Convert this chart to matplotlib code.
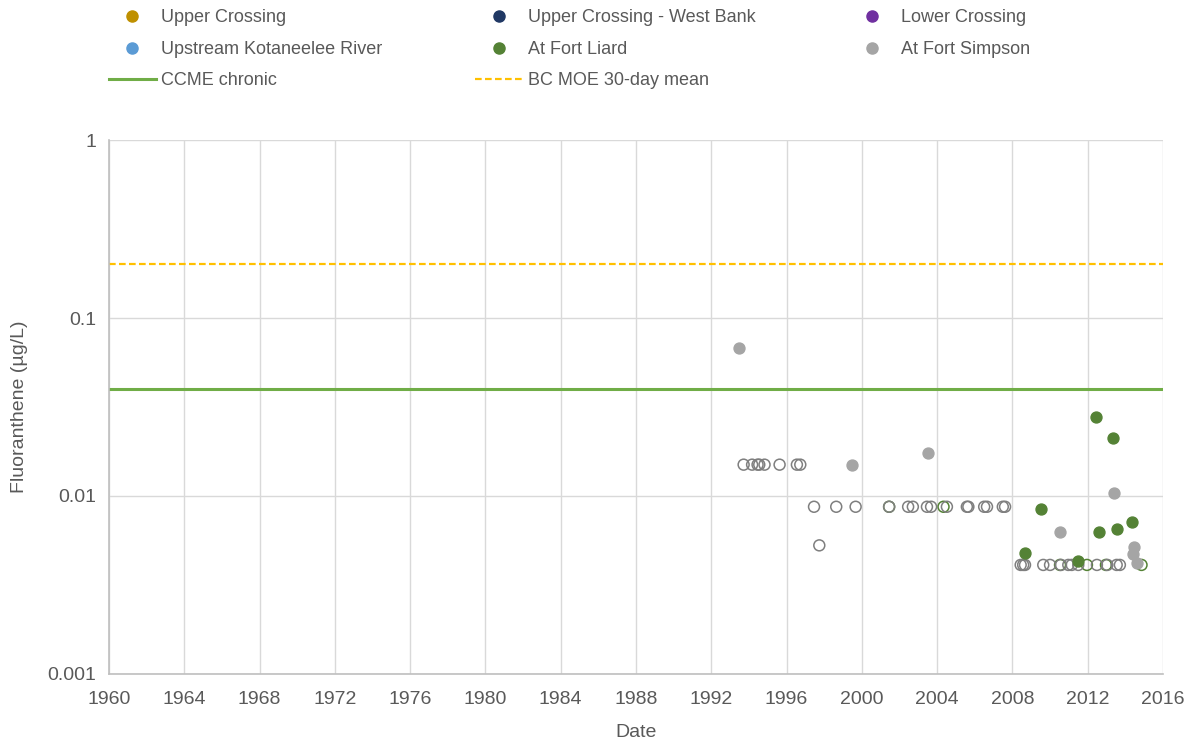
import matplotlib.pyplot as plt
from matplotlib.lines import Line2D

plt.rcParams['font.family'] = ['Liberation Sans', 'DejaVu Sans']

# At Fort Simpson, detected values (decimal year, ug/L)
simpson_year = [1993.49, 1999.49, 2003.52, 2010.53, 2013.38, 2014.45, 2014.39, 2014.60]
simpson_val = [0.0678, 0.0149, 0.0174, 0.0063, 0.0104, 0.00515, 0.00472, 0.00419]

# At Fort Simpson, below detection limit (hollow)
simpson_nd_year = [1993.72, 1994.17, 1994.46, 1994.55, 1994.83, 1995.63, 1996.55, 1996.73,
                   1997.46, 1997.74, 1998.64, 1999.67, 2001.45, 2002.46, 2002.71, 2003.46,
                   2003.68, 2004.52, 2005.58, 2005.66, 2006.50, 2006.65, 2007.49, 2007.61,
                   2008.44, 2008.57, 2008.67, 2009.64, 2010.00, 2010.58, 2010.97, 2011.15,
                   2011.50, 2012.49, 2013.04, 2013.54, 2013.71]
simpson_nd_val = [0.015, 0.015, 0.015, 0.015, 0.015, 0.015, 0.015, 0.015,
                  0.0087, 0.00528, 0.0087, 0.0087, 0.0087, 0.0087, 0.0087, 0.0087,
                  0.0087, 0.0087, 0.0087, 0.0087, 0.0087, 0.0087, 0.0087, 0.0087,
                  0.0041, 0.0041, 0.0041, 0.0041, 0.0041, 0.0041, 0.0041, 0.0041,
                  0.0041, 0.0041, 0.0041, 0.0041, 0.0041]

# At Fort Liard, detected values
liard_year = [2012.44, 2013.37, 2009.50, 2008.69, 2011.50, 2012.58, 2013.54, 2014.35]
liard_val = [0.0279, 0.0213, 0.00845, 0.0048, 0.0043, 0.00625, 0.0065, 0.00717]

# At Fort Liard, below detection limit
liard_nd_year = [2001.45, 2004.34, 2010.53, 2011.96, 2012.97, 2014.86]
liard_nd_val = [0.0087, 0.0087, 0.0041, 0.0041, 0.0041, 0.0041]

ccme_chronic = 0.04
bc_moe_30day = 0.2

c_simpson = '#A5A5A5'
c_liard = '#548235'
txt = '#595959'
grid_c = '#D9D9D9'

fig = plt.figure(figsize=(11.95, 7.4), dpi=100)
ax = fig.add_axes([0.0912, 0.0892, 0.8820, 0.7216])

ax.axhline(ccme_chronic, color='#70AD47', lw=2.2, zorder=2)
ax.axhline(bc_moe_30day, color='#FFC000', lw=1.6, ls=(0, (3, 1.5)), zorder=2)

ax.scatter(liard_nd_year, liard_nd_val, s=62, facecolors='none', edgecolors=c_liard,
           linewidths=1.1, zorder=3)
ax.scatter(liard_year, liard_val, s=62, color=c_liard, zorder=4)
ax.scatter(simpson_nd_year, simpson_nd_val, s=62, facecolors='none', edgecolors='#7F7F7F',
           linewidths=1.1, zorder=3)
ax.scatter(simpson_year, simpson_val, s=62, color=c_simpson, zorder=4)

ax.set_yscale('log')
ax.set_ylim(0.001, 1)
ax.set_yticks([0.001, 0.01, 0.1, 1])
ax.set_yticklabels(['0.001', '0.01', '0.1', '1'])
ax.minorticks_off()
ax.set_xlim(1960, 2016)
ax.set_xticks(range(1960, 2017, 4))

ax.grid(True, color=grid_c, lw=1)
ax.set_axisbelow(True)
for s in ['top', 'right']:
    ax.spines[s].set_visible(False)
for s in ['left', 'bottom']:
    ax.spines[s].set_color('#BFBFBF')
    ax.spines[s].set_linewidth(1.2)
ax.tick_params(axis='x', length=0, labelsize=14, colors=txt, pad=12)
ax.tick_params(axis='y', length=0, labelsize=14, colors=txt, pad=9)

ax.set_xlabel('Date', fontsize=14, color=txt, labelpad=12)
ax.set_ylabel('Fluoranthene (µg/L)', fontsize=14, color=txt, labelpad=14)

# legend, Excel-style three columns
def dot(c):
    return Line2D([], [], ls='none', marker='o', ms=8, color=c)

handles = [dot('#BF9000'), dot('#5B9BD5'),
           Line2D([], [], color='#70AD47', lw=2.2),
           dot('#203864'), dot(c_liard),
           Line2D([], [], color='#FFC000', lw=1.6, ls=(0, (3, 1.5))),
           dot('#7030A0'), dot(c_simpson), Line2D([], [], ls='none')]
labels = ['Upper Crossing', 'Upstream Kotaneelee River', 'CCME chronic',
          'Upper Crossing - West Bank', 'At Fort Liard', 'BC MOE 30-day mean',
          'Lower Crossing', 'At Fort Simpson', '']
leg = fig.legend(handles, labels, ncol=3, loc='upper left', bbox_to_anchor=(0.085, 0.997),
                 frameon=False, fontsize=13, handlelength=2.6, handletextpad=0.3,
                 columnspacing=5.15, labelspacing=0.8, borderaxespad=0)
for t in leg.get_texts():
    t.set_color(txt)

fig.savefig('out.png', dpi=100)
